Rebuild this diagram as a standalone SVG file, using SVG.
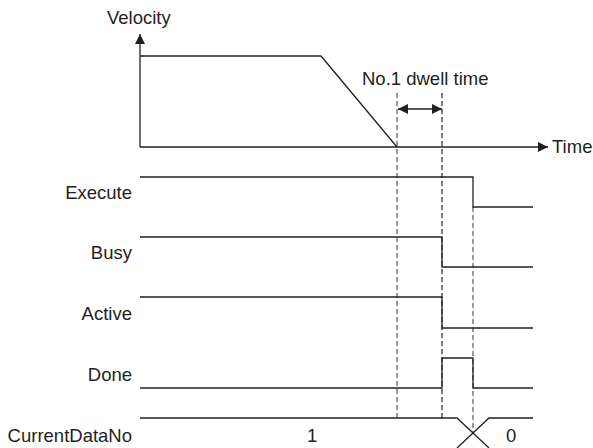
<svg xmlns="http://www.w3.org/2000/svg" width="593" height="448" viewBox="0 0 593 448">
<style>
text{font-family:"Liberation Sans",Arial,sans-serif;font-size:18.5px;fill:#231f20}
.ln{fill:none;stroke:#231f20;stroke-width:1.3}
.ds{fill:none;stroke:#555;stroke-width:1.2;stroke-dasharray:5,3}
.dk{fill:none;stroke:#231f20;stroke-width:1.2;stroke-dasharray:5,3}
.lab{text-anchor:end}
</style>
<defs>
<marker id="ah" markerWidth="10" markerHeight="10" refX="10" refY="5" orient="auto" markerUnits="userSpaceOnUse">
<path d="M0,0 L10,5 L0,10 Z" fill="#231f20"/>
</marker>
<marker id="ahs" markerWidth="10" markerHeight="10" refX="10" refY="5" orient="auto-start-reverse" markerUnits="userSpaceOnUse">
<path d="M0,0 L10,5 L0,10 Z" fill="#231f20"/>
</marker>
</defs>
<g id="axes">
<path class="ln" d="M140,147 V34" marker-end="url(#ah)"/>
<path class="ln" d="M140,147 H548" marker-end="url(#ah)"/>
<text x="107" y="24">Velocity</text>
<text x="552" y="153">Time</text>
</g>
<g id="velocity">
<path class="ln" d="M140,56 H321 L397,147"/>
</g>
<g id="dwell">
<text x="362" y="85">No.1 dwell time</text>
<path class="ln" d="M398,109 H442" marker-start="url(#ahs)" marker-end="url(#ahs)"/>
</g>
<g id="connectors">
<path class="ds" d="M397,93 V418"/>
<path class="dk" d="M442,93 V418"/>
<path class="ds" d="M473,207 V433"/>
</g>
<g id="execute">
<text class="lab" x="132" y="199">Execute</text>
<path class="ln" d="M140,177 H473 V207 H533"/>
</g>
<g id="busy">
<text class="lab" x="132" y="259">Busy</text>
<path class="ln" d="M140,237 H442 V267 H533"/>
</g>
<g id="active">
<text class="lab" x="132" y="320">Active</text>
<path class="ln" d="M140,297 H442 V328 H533"/>
</g>
<g id="done">
<text class="lab" x="132" y="381">Done</text>
<path class="ln" d="M140,388 H442 V358 H473 V388 H533"/>
</g>
<g id="currentdatano">
<text class="lab" x="132" y="442">CurrentDataNo</text>
<path class="ln" d="M140,418 H457 L489,448"/>
<path class="ln" d="M457,448 L489,418 H533"/>
<text x="307" y="442">1</text>
<text x="506" y="442">0</text>
</g>
</svg>
